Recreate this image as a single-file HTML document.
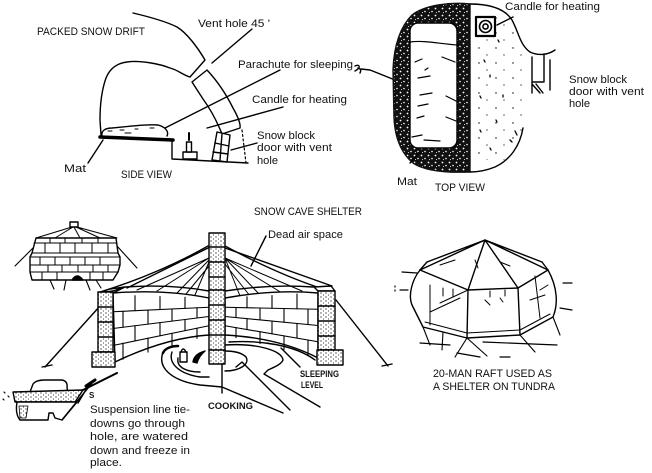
<!DOCTYPE html>
<html><head><meta charset="utf-8"><style>
html,body{margin:0;padding:0;background:#fff;}
svg{display:block;}
text{font-family:"Liberation Sans","DejaVu Sans",sans-serif;fill:#111;}
</style></head><body>
<svg width="652" height="473" viewBox="0 0 652 473" xmlns="http://www.w3.org/2000/svg">
<defs>
<pattern id="dk" width="7" height="7" patternUnits="userSpaceOnUse">
<rect width="7" height="7" fill="#111"/>
<circle cx="1.5" cy="1.5" r="0.9" fill="#fff"/>
<circle cx="5" cy="4.5" r="0.8" fill="#fff"/>
<circle cx="2.5" cy="5.5" r="0.5" fill="#fff"/>
</pattern>
<pattern id="st" width="17" height="15" patternUnits="userSpaceOnUse">
<circle cx="3" cy="3" r="0.7" fill="#000"/>
<circle cx="11" cy="10" r="0.6" fill="#000"/>
</pattern>
<pattern id="st2" width="5" height="4" patternUnits="userSpaceOnUse">
<rect width="5" height="4" fill="#fff"/>
<circle cx="1" cy="1" r="0.6" fill="#000"/>
<circle cx="3.5" cy="3" r="0.5" fill="#000"/>
</pattern>
</defs>

<g fill="none" stroke="#000" stroke-width="1.4" stroke-linecap="round" stroke-linejoin="round">

<!-- ============ SIDE VIEW ============ -->
<path d="M133,13 C150,17 165,21 177,27 C187,33 198,48 205,60 L190,77"/>
<path d="M190,77 C183,75 178,70 170,68 C160,64 140,60 127,62 C118,63 110,68 106,78 C101,92 100,108 100,120 L101,135"/>
<path d="M192,82 L207,70 Q222,86 233,108 Q241,122 240,128 L222,134 Q214,114 203,99 Z"/>
<path d="M212,63 L252,29"/>
<path d="M102,136 C101,131 105,128 112,128 C125,127 145,124 158,125 C166,127 169,132 167,136" fill="#fff"/>
<path d="M108,131 L112,131 M120,130 L124,130 M135,129 L138,129 M150,128 L154,128 M125,133 L131,133" stroke-width="1"/>
<path d="M100,137 L173,140" stroke-width="3.5"/>
<path d="M172,140 L172,159 L248,163"/>
<rect x="183" y="152" width="14" height="7" fill="#fff"/>
<rect x="186.5" y="142" width="5" height="10" fill="#fff"/>
<path d="M189,140 L189,133" stroke-width="2"/>
<path d="M217,132 L230,135 L227,162 L212,160 Z" fill="#fff"/>
<path d="M215,143 L229,146 M213,152 L228,154 M222,134 L220,160"/>
<path d="M242,130 L246,163" stroke-dasharray="2,2.5" stroke-width="1.2"/>
<path d="M280,70 L165,128"/>
<path d="M283,107 L207,128"/>
<path d="M257,143 L231,150"/>
<path d="M88,163 L103,140"/>
<path d="M355,66 Q360,64 359,68 Q357,70 355,71 M358,68 Q362,69 360,73 M361,69 L370,70 L395,80"/>

<!-- ============ TOP VIEW ============ -->
<path d="M470,4 C450,2 425,5 412,15 C400,27 394,45 393,70 L394,118 C395,138 401,153 413,163 C425,171 445,173 470,172 Z" fill="url(#dk)" stroke="#111"/>
<rect x="410" y="23" width="47" height="125" rx="8" fill="#fff" stroke="#000"/>
<path d="M470,4 C490,4 505,9 512,20 C519,33 520,45 530,52 C538,56 548,55 555,50"/>
<path d="M523,128 C520,146 510,160 495,167 C485,171 477,172 470,172"/>
<path d="M475,25 L475,160 L505,160 C515,150 520,140 522,128 L530,55 L510,20 L475,10 Z" fill="url(#st)" stroke="none"/>
<rect x="476" y="17" width="19" height="19" fill="#fff" stroke-width="2.2"/>
<circle cx="485.5" cy="26.5" r="6" stroke-width="1.6"/>
<circle cx="485.5" cy="26.5" r="2.6" stroke-width="1.6"/>
<path d="M497,25 L513,17"/>
<path d="M532,57 L532,93 M544,55 L544,82 M550,60 L550,90 M532,82 L543,82 M532,84 L540,93 M536,84 L543,93"/>
<path d="M410,42 C425,40 440,44 458,45" stroke-width="1.2"/>
<path d="M415,62 L422,59 M418,78 L430,76 M442,57 L455,62 M420,95 L432,93 M446,96 L456,101 M418,106 L428,104 M417,118 L424,116 M446,117 L456,121 M412,137 L422,135 M424,140 L440,141 M425,70 L428,68" stroke-width="1.2"/>
<path d="M410,163 L420,152"/>
<path d="M484,60 L485,62 M490,75 L490,77 M480,96 L481,98 M503,95 L503,97 M496,120 L497,122 M515,131 L517,135 M510,140 L512,142 M490,148 L491,150 M498,40 L499,42 M480,130 L481,132" stroke-width="1.3"/>

<!-- ============ SNOW CAVE ============ -->
<path d="M208,246 C180,262 140,280 100,292"/>
<path d="M208,248 L127,288"/>
<path d="M100,306 L45,367 M42,367 L52,365"/>
<path d="M225,246 C255,262 290,278 320,288"/>
<path d="M225,248 L332,286"/>
<path d="M336,300 L388,366 M382,366 L392,364"/>
<path d="M209,258 L137,290 M209,258 L157,291 M209,260 L177,293 M209,262 L195,295 M209,266 L186,294" stroke-width="1"/>
<path d="M225,258 L240,296 M225,258 L260,295 M225,258 L282,293 M225,258 L302,291 M225,264 L250,296" stroke-width="1"/>
<path d="M266,236 L251,266"/>
<!-- left wall -->
<path d="M113,293 Q165,289 209,298 L209,335 Q165,338 115,362 Z" fill="#fff"/>
<path d="M113,293 L125,287 Q170,284 209,291"/>
<path d="M113,311.75 L209,307.25 M113,328.5 L209,316.5 M114,345.25 L209,325.75" stroke-width="1.1"/>
<path d="M135,295.7 L135,310.7 M160,296.5 L160,309.6 M185,297.25 L185,308.4 M135,325.75 L135,340.8 M160,322.6 L160,335.7 M185,319.5 L185,330.6 M123,311.3 L123,327.3 M148,310.1 L148,324.1 M172,309 L172,321.1 M197,307.8 L197,318 M123,343.2 L123,359.2 M148,338.1 L148,352.1 M172,333.3 L172,345.4 M197,328.2 L197,338.4" stroke-width="1.1"/>
<!-- right wall -->
<path d="M225,298 Q275,289 318,293 L318,358 Q280,338 225,335 Z" fill="#fff"/>
<path d="M225,291 Q270,284 313,287"/>
<path d="M225,307.25 L318,309.25 M225,316.5 L318,325.5 M225,325.75 L318,341.75" stroke-width="1.1"/>
<path d="M247,296.8 L247,307.7 M272,295.5 L272,308.3 M297,294.1 L297,308.8 M247,318.6 L247,329.5 M272,321 L272,333.8 M297,323.5 L297,338.1 M236,307.5 L236,317.6 M260,308 L260,319.9 M284,308.5 L284,322.2 M308,309 L308,324.5 M236,327.6 L236,337.7 M260,331.7 L260,343.6 M284,335.9 L284,349.6 M308,340 L308,355.5" stroke-width="1.1"/>
<!-- left pillar -->
<path d="M98,293 L113,291 L125,287 L110,289 Z" fill="#fff"/>
<rect x="98" y="292" width="15" height="60" fill="url(#st2)"/>
<path d="M98,307 L113,307 M98,322 L113,322 M98,337 L113,337"/>
<rect x="92" y="352" width="23" height="15" fill="url(#st2)"/>
<!-- right pillar -->
<path d="M318,291 L335,291 L331,286 L314,287 Z" fill="#fff"/>
<rect x="318" y="291" width="17" height="59" fill="url(#st2)"/>
<path d="M318,306 L335,306 M318,321 L335,321 M318,336 L335,336"/>
<rect x="317" y="350" width="26" height="15" fill="url(#st2)"/>
<!-- center pillar -->
<rect x="209" y="233" width="16" height="131" fill="url(#st2)"/>
<path d="M209,247 L225,247 M209,262 L225,262 M209,277 L225,277 M209,290 L225,290 M209,305 L225,305 M209,320 L225,320 M209,335 L225,335 M209,350 L225,350"/>
<!-- floor -->
<path d="M163,352 C157,368 172,381 200,385 L222,387 L283,413"/>
<path d="M172,352 C168,364 180,374 200,377 L209,377"/>
<path d="M178,358 C176,368 188,372 200,372"/>
<path d="M225,371 C240,371 250,364 246,357 C241,352 232,351 225,351"/>
<path d="M225,345 C255,343 282,350 283,360 C281,365 272,368 268,370 L264,374 L320,407"/>
<path d="M236,367 L242,362 L246,366 L290,410"/>
<path d="M222,364 L222,393"/>
<path d="M281,348 L300,367"/>
<path d="M229,342 C260,340 295,345 315,360"/>
<rect x="180" y="352" width="7" height="10" fill="#fff"/>
<path d="M181,352 Q183,346 186,352"/>
<path d="M193,362 Q194,354 205,351 Q199,356 197,363 Z" fill="#000"/>
<path d="M163,353 C165,348 172,346 178,346" stroke-width="2.5"/>
<path d="M395,286 L395,287 M395,290 L395,291" stroke-width="1.2"/>
<!-- igloo inset -->
<rect x="70" y="222" width="8" height="5" fill="#fff"/>
<path d="M72,227 L36,238 M73,227 L55,238 M74,227 L80,238 M76,227 L100,238 M77,227 L117,238" stroke-width="1"/>
<path d="M36,238 L116,238 L118,253 L120,257 L120,265 L118,272 L113,280 L32,280 L30,272 L30,257 L32,253 Z" fill="#fff"/>
<path d="M34,243 L117,243 M32,253 L118,253 M31,257 L120,257 M30,265 L120,265 M30,272 L118,272" stroke-width="1"/>
<path d="M50,238 L50,243 M65,238 L65,243 M82,238 L82,243 M98,238 L98,243 M45,243 L45,253 M60,243 L60,253 M75,243 L75,253 M92,243 L92,253 M108,243 L108,253 M40,257 L40,265 M55,257 L55,265 M70,257 L70,265 M85,257 L85,265 M100,257 L100,265 M48,265 L48,272 M62,265 L62,272 M78,265 L78,272 M93,265 L93,272 M108,265 L108,272 M42,272 L42,280 M57,272 L57,280 M90,272 L90,280 M103,272 L103,280" stroke-width="1"/>
<path d="M72,280 Q77,272 83,280 Z" fill="#000"/>
<path d="M33,248 L15,266 M117,246 L137,268 M50,280 L54,289 M66,280 L64,290 M86,280 L90,290 M96,280 L101,288" stroke-width="1.1"/>
<!-- cross-section -->
<path d="M30,392 L33,384 Q36,380 45,380 L62,380 Q68,381 67,388 L68,392 Z" fill="#fff"/>
<path d="M13,392 L83,390 L75,402 L15,402 Z" fill="url(#st2)"/>
<path d="M17,402 L77,402 L62,420 L55,418 L53,413 L49,413 L48,420 L20,420 Q15,414 17,402 Z" fill="#fff"/>
<path d="M19,406 L28,406 L26,418 L20,418 Z" fill="url(#st2)" stroke-width="0.8"/>
<path d="M83,390 L117,373" stroke-width="2"/>
<path d="M92,383 L62,420 M90,383 L78,403" stroke-width="1.4"/>
<path d="M86,386 L95,380" stroke-width="3"/>
<path d="M4,392 L5,393 M8,396 L9,397 M3,399 L4,400" stroke-width="1.2"/>

<!-- ============ TENT ============ -->
<path d="M427,262 L420,270 L468,290 L518,288 L548,270 L542,262" fill="#fff"/>
<path d="M485,240 L427,262 M485,240 L420,270 M485,240 L468,290 M485,240 L518,288 M485,240 L548,270 M485,240 L542,262"/>
<path d="M420,270 C412,280 408,295 412,305 L423,327 L467,338 L520,335 L553,317 C558,305 558,288 548,270"/>
<path d="M468,290 L467,338 M518,288 L520,335"/>
<path d="M425,322 L467,333 L520,330 L550,314" stroke-width="1"/>
<path d="M430,285 L430,325 M535,276 L540,318" stroke-width="1"/>
<path d="M440,303 L468,290 M430,312 L460,298 M485,300 L490,305 M500,298 L503,302 M540,290 L548,285 M530,300 L545,295" stroke-width="1"/>
<path d="M443,288 L443,296 M453,289 L453,297 M490,291 L490,297 M505,290 L505,296 M475,260 L478,268 M500,262 L510,266 M440,265 L455,260" stroke-width="1"/>
<path d="M402,272 L417,273 M400,290 L408,290 M563,283 L572,283 M560,308 L572,310 M420,343 L450,345 M457,353 L480,357 M483,342 L557,345 M500,357 L510,357" stroke-width="1.2"/>
<path d="M467,338 L455,357 M467,338 L487,356 M520,335 L535,352 M423,327 L430,345 M553,317 L560,335 M443,332 L442,350" stroke-width="1.1"/>
</g>

<!-- ============ TEXT ============ -->
<text font-size="11" x="37" y="35" textLength="108" lengthAdjust="spacingAndGlyphs">PACKED SNOW DRIFT</text>
<text font-size="11" x="198" y="27" textLength="72" lengthAdjust="spacingAndGlyphs">Vent hole 45 '</text>
<text font-size="11" x="238" y="68" textLength="115" lengthAdjust="spacingAndGlyphs">Parachute for sleeping</text>
<text font-size="11" x="252" y="103" textLength="95" lengthAdjust="spacingAndGlyphs">Candle for heating</text>
<text font-size="11" x="257" y="139" textLength="58" lengthAdjust="spacingAndGlyphs">Snow block</text>
<text font-size="11" x="257" y="151" textLength="75" lengthAdjust="spacingAndGlyphs">door with vent</text>
<text font-size="11" x="257" y="164" textLength="21" lengthAdjust="spacingAndGlyphs">hole</text>
<text font-size="11" x="64" y="172" textLength="22" lengthAdjust="spacingAndGlyphs">Mat</text>
<text font-size="11" x="121" y="178" textLength="51" lengthAdjust="spacingAndGlyphs">SIDE VIEW</text>

<text font-size="11" x="505" y="10" textLength="95" lengthAdjust="spacingAndGlyphs">Candle for heating</text>
<text font-size="11" x="569" y="83" textLength="58" lengthAdjust="spacingAndGlyphs">Snow block</text>
<text font-size="11" x="569" y="95" textLength="75" lengthAdjust="spacingAndGlyphs">door with vent</text>
<text font-size="11" x="569" y="107" textLength="21" lengthAdjust="spacingAndGlyphs">hole</text>
<text font-size="11" x="397" y="185" textLength="20" lengthAdjust="spacingAndGlyphs">Mat</text>
<text font-size="11" x="435" y="191" textLength="50" lengthAdjust="spacingAndGlyphs">TOP VIEW</text>

<text font-size="11" x="254" y="215" textLength="108" lengthAdjust="spacingAndGlyphs">SNOW CAVE SHELTER</text>
<text font-size="11" x="268" y="238" textLength="75" lengthAdjust="spacingAndGlyphs">Dead air space</text>

<text font-size="11" x="433" y="377" textLength="119" lengthAdjust="spacingAndGlyphs">20-MAN RAFT USED AS</text>
<text font-size="11" x="433" y="390" textLength="122" lengthAdjust="spacingAndGlyphs">A SHELTER ON TUNDRA</text>

<text font-size="9" font-weight="bold" x="300" y="377" textLength="39" lengthAdjust="spacingAndGlyphs">SLEEPING</text>
<text font-size="9" font-weight="bold" x="301" y="388" textLength="22" lengthAdjust="spacingAndGlyphs">LEVEL</text>
<text font-size="9" font-weight="bold" x="208" y="409" textLength="45" lengthAdjust="spacingAndGlyphs">COOKING</text>
<text font-size="8" font-weight="bold" x="89" y="398">S</text>

<text font-size="11" x="90" y="413" textLength="100" lengthAdjust="spacingAndGlyphs">Suspension line tie-</text>
<text font-size="11" x="90" y="427" textLength="95" lengthAdjust="spacingAndGlyphs">downs go through</text>
<text font-size="11" x="90" y="440" textLength="98" lengthAdjust="spacingAndGlyphs">hole, are watered</text>
<text font-size="11" x="90" y="454" textLength="100" lengthAdjust="spacingAndGlyphs">down and freeze in</text>
<text font-size="11" x="90" y="466" textLength="32" lengthAdjust="spacingAndGlyphs">place.</text>
</svg>
</body></html>
